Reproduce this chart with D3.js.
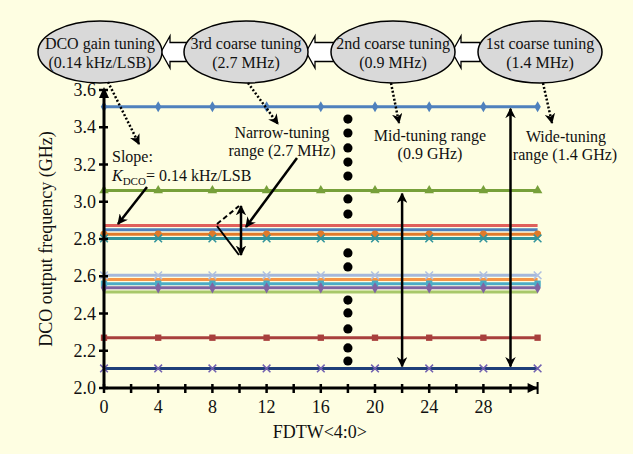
<!DOCTYPE html>
<html><head><meta charset="utf-8">
<script src="https://cdn.jsdelivr.net/npm/d3@7"></script>
<style>
body{margin:0;background:#fefee2;}
svg{display:block;font-family:"Liberation Serif","Times New Roman",serif;}
</style></head>
<body><svg id="c" width="633" height="454"></svg>
<script>
// ---- data ----
const fdtw = [0, 4, 8, 12, 16, 20, 24, 28, 32];
const seriesNames = ["s1","s2","s3","s4","s5","s6","s7","s8","s9","s10","s11","s12","s13"];
const seriesFreq = [3.51, 3.06, 2.872, 2.85, 2.826, 2.803, 2.605, 2.582, 2.56, 2.538, 2.515, 2.27, 2.105];
const yTicks = [2.0, 2.2, 2.4, 2.6, 2.8, 3.0, 3.2, 3.4, 3.6];
const xTicks = [0, 2, 4, 6, 8, 10, 12, 14, 16, 18, 20, 22, 24, 26, 28, 30];
const xLabels = [0, 4, 8, 12, 16, 20, 24, 28];
const bubbles = [["DCO gain tuning","(0.14 kHz/LSB)"],["3rd coarse tuning","(2.7 MHz)"],["2nd coarse tuning","(0.9 MHz)"],["1st coarse tuning","(1.4 MHz)"]];
const dotFreqs = [3.444,3.369,3.289,3.213,3.138,3.015,2.934,2.725,2.650,2.472,2.403,2.317,2.215,2.145];

// ---- styles ----
const colors = ["#4f81bd","#77a03a","#e0605c","#4f81bd","#e07a2a","#31949c","#a5b8da","#f79646","#4bacc6","#8064a2","#a8c86a","#a8403d","#1f3f7a"];
const shapes = ["diamond","triangle","none","none","circle","cross","cross","none","square","diamond","none","square","cross"];
const markerColors = ["#4f81bd","#77a03a","#e0605c","#4f81bd","#e07a2a","#31949c","#b0c0e0","#f79646","#4bacc6","#8064a2","#a8c86a","#a8403d","#7060b0"];

const svg = d3.select("#c");
const x = d3.scaleLinear().domain([0, 32]).range([104, 537.6]);
const y = d3.scaleLinear().domain([2.0, 3.6]).range([388, 90]);

const defs = svg.append("defs");
defs.append("marker").attr("id","ah").attr("viewBox","0 0 10 10").attr("refX",9).attr("refY",5)
  .attr("markerWidth",4.2).attr("markerHeight",4.2).attr("orient","auto-start-reverse")
  .attr("markerUnits","strokeWidth")
  .append("path").attr("d","M0,0 L10,5 L0,10 L3,5 Z").attr("fill","#000");

// ---- data lines ----
const gLines = svg.append("g");
seriesFreq.forEach((f, i) => {
  const pts = fdtw.map(v => [v, f]);
  gLines.append("path").datum(pts)
    .attr("d", d3.line().x(d => x(d[0])).y(d => y(d[1])))
    .attr("fill","none").attr("stroke", colors[i]).attr("stroke-width", 3);
});
seriesFreq.forEach((f, i) => {
  const sh = shapes[i];
  if (sh === "none") return;
  const sym = {diamond:d3.symbolDiamond, triangle:d3.symbolTriangle, circle:d3.symbolCircle, square:d3.symbolSquare, cross:d3.symbolX}[sh];
  gLines.selectAll(null).data(fdtw).enter().append("path")
    .attr("transform", d => `translate(${x(d)},${y(f)})`)
    .attr("d", d3.symbol().type(sym).size(sh==="cross"?40:(sh==="diamond"?36:40)))
    .attr("fill", markerColors[i])
    .attr("stroke", sh==="cross" ? markerColors[i] : "none")
    .attr("stroke-width", sh==="cross"?1.5:0);
});

// ---- axes ----
const gAx = svg.append("g").attr("stroke","#000");
gAx.append("line").attr("x1",x(0)).attr("x2",x(32)).attr("y1",y(2)).attr("y2",y(2)).attr("stroke-width",3);
gAx.append("line").attr("x1",x(0)).attr("x2",x(0)).attr("y1",y(2)).attr("y2",y(3.6)+2).attr("stroke-width",3);
yTicks.forEach(t => gAx.append("line").attr("x1",x(0)-5).attr("x2",x(0)+4).attr("y1",y(t)).attr("y2",y(t)).attr("stroke-width",2.5));
xTicks.forEach(t => gAx.append("line").attr("x1",x(t)).attr("x2",x(t)).attr("y1",y(2)-4).attr("y2",y(2)+5).attr("stroke-width",2.5));
// axis arrows
svg.append("path").attr("d",`M${x(0)},${y(3.6)-3} L${x(0)-5},${y(3.6)+8} L${x(0)+5},${y(3.6)+8} Z`).attr("fill","#000");
svg.append("path").attr("d",`M${x(32)},${y(2)} L${x(32)-10},${y(2)-5} L${x(32)-10},${y(2)+5} Z`).attr("fill","#000");
svg.append("line").attr("x1",x(32)).attr("x2",x(32)).attr("y1",y(2)-6).attr("y2",y(2)+6).attr("stroke","#000").attr("stroke-width",2);

const gT = svg.append("g").attr("font-size",18).attr("fill","#111");
yTicks.forEach(t => gT.append("text").attr("x",x(0)-8).attr("y",y(t)+6).attr("text-anchor","end").text(t.toFixed(1)));
xLabels.forEach(t => gT.append("text").attr("x",x(t)).attr("y",413).attr("text-anchor","middle").text(t));
gT.append("text").attr("x",(x(0)+x(32))/2 - 1).attr("y",438).attr("text-anchor","middle").text("FDTW<4:0>");
gT.append("text").attr("transform","translate(52,239) rotate(-90)").attr("text-anchor","middle").text("DCO output frequency (GHz)");

// ---- bubbles and hollow arrows ----
const bubbleCx = [100, 246, 393, 540];
const gB = svg.append("g");
[[161,188],[306,334],[452,480]].forEach(([tip, end]) => {
  const cy = 52, hb = tip + 9;
  gB.append("path").attr("d",`M${tip},${cy} L${hb},${cy-16} L${hb},${cy-9.5} L${end},${cy-9.5} L${end},${cy+9.5} L${hb},${cy+9.5} L${hb},${cy+16} Z`)
    .attr("fill","#fff").attr("stroke","#000").attr("stroke-width",1.3);
});
bubbles.forEach((b, i) => {
  gB.append("ellipse").attr("cx",bubbleCx[i]).attr("cy",52).attr("rx",62).attr("ry",31)
    .attr("fill","#d9d9d9").attr("stroke","#000").attr("stroke-width",1.5);
  gB.append("text").attr("x",bubbleCx[i]).attr("y",48.5).attr("text-anchor","middle").attr("font-size",16).attr("fill","#111").text(b[0]);
  gB.append("text").attr("x",bubbleCx[i]).attr("y",67.5).attr("text-anchor","middle").attr("font-size",16).attr("fill","#111").text(b[1]);
});

// ---- annotations ----
const gA = svg.append("g").attr("stroke","#000").attr("fill","none");
function arrow(x1,y1,x2,y2,opts={}){
  const l = gA.append("line").attr("x1",x1).attr("y1",y1).attr("x2",x2).attr("y2",y2)
    .attr("stroke-width",opts.w||2.5).attr("marker-end","url(#ah)");
  if (opts.dash) l.attr("stroke-dasharray",opts.dash);
  if (opts.both) l.attr("marker-start","url(#ah)");
  return l;
}
arrow(108,82,139,144,{dash:"2,2"});
arrow(248,83,278,124,{dash:"2,2"});
arrow(391,83,399,123,{dash:"2,2"});
arrow(543,83,552,123,{dash:"2,2"});
arrow(147,187,118,224);
arrow(297,158,246,227);
arrow(241,255,241,206,{both:true});
gA.append("line").attr("x1",217).attr("y1",224).attr("x2",239).attr("y2",206).attr("stroke-width",2).attr("stroke-dasharray","5,3");
gA.append("line").attr("x1",217).attr("y1",226).attr("x2",239).attr("y2",255).attr("stroke-width",2);
arrow(x(22),y(3.06)+3,x(22),y(2.105)-2,{both:true});
arrow(x(30),y(3.51)+2,x(30),y(2.105)-2,{both:true});

svg.append("g").selectAll("circle").data(dotFreqs).enter().append("circle")
  .attr("cx",x(18)).attr("cy",d=>y(d)).attr("r",4.6).attr("fill","#000");

const gN = svg.append("g").attr("font-size",16).attr("fill","#111");
gN.append("text").attr("x",112).attr("y",162).text("Slope:");
const k = gN.append("text").attr("x",112).attr("y",181);
k.append("tspan").attr("font-style","italic").text("K");
k.append("tspan").attr("font-size",11).attr("dy",4).text("DCO");
k.append("tspan").attr("dy",-4).text("= 0.14 kHz/LSB");
gN.append("text").attr("x",282).attr("y",137.5).attr("text-anchor","middle").text("Narrow-tuning");
gN.append("text").attr("x",282).attr("y",155.5).attr("text-anchor","middle").text("range (2.7 MHz)");
gN.append("text").attr("x",430).attr("y",140.5).attr("text-anchor","middle").text("Mid-tuning range");
gN.append("text").attr("x",430).attr("y",159).attr("text-anchor","middle").text("(0.9 GHz)");
gN.append("text").attr("x",566).attr("y",141.5).attr("text-anchor","middle").text("Wide-tuning");
gN.append("text").attr("x",565).attr("y",160).attr("text-anchor","middle").text("range (1.4 GHz)");
</script></body></html>
